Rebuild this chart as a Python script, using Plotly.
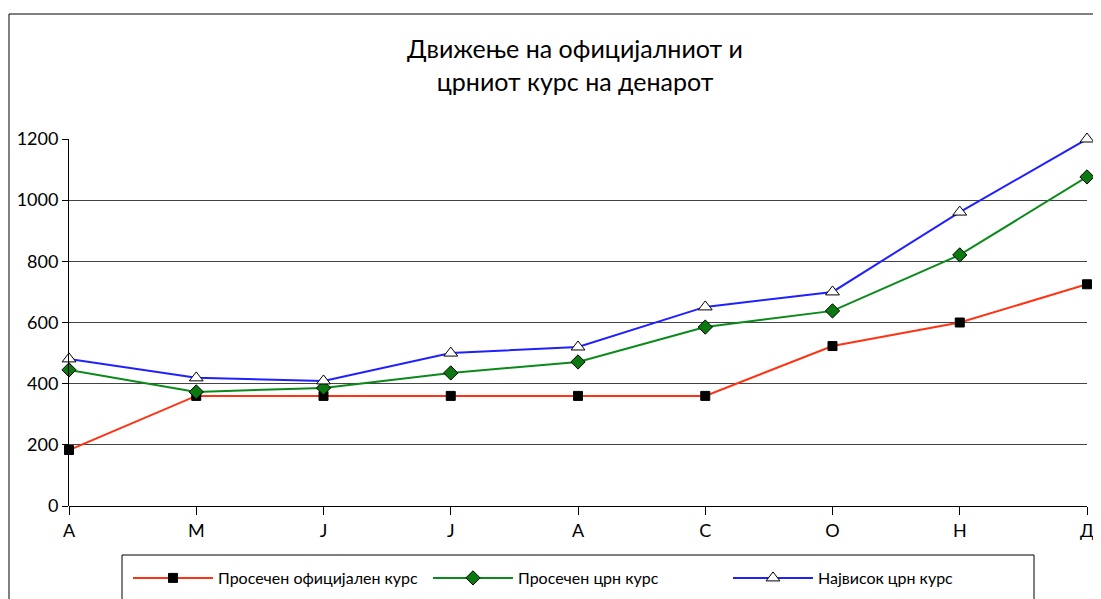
import plotly.graph_objects as go

# months (Apr..Dec), Macedonian initials
months = ["А", "М", "Ј", "Ј", "А", "С", "О", "Н", "Д"]
official_avg = [183, 360, 360, 360, 360, 360, 523, 600, 725]
black_avg = [445, 373, 386, 435, 471, 585, 638, 821, 1076]
black_max = [481, 419, 409, 500, 520, 651, 700, 961, 1200]

names = ["Просечен официјален курс", "Просечен црн курс", "Највисок црн курс"]

# the page body adds an 8px margin, so the figure is shifted by that much
OFF = 8
W, H = 1101 - OFF, 599 - OFF
L, R, T, B = 69 - OFF, 1087 - OFF, 139 - OFF, 506 - OFF


def px_x(p):
    return (p - OFF - L) / (R - L)


def px_y(p):
    return (B - (p - OFF)) / (B - T)


def cx(p):
    return (p - OFF) / W


def cy(p):
    return 1 - (p - OFF) / H


font_family = "Lato, 'DejaVu Sans', sans-serif"
xs = list(range(len(months)))

fig = go.Figure()

fig.add_trace(go.Scatter(
    x=xs, y=official_avg, name=names[0], mode="lines+markers",
    line=dict(color="#ff3314", width=2),
    marker=dict(symbol="square", size=9, color="black", line=dict(color="black", width=1)),
    legend="legend", cliponaxis=False,
))
fig.add_trace(go.Scatter(
    x=xs, y=black_avg, name=names[1], mode="lines+markers",
    line=dict(color="#0a8a1a", width=2),
    marker=dict(symbol="diamond", size=11, color="#0a7a10", line=dict(color="black", width=1)),
    legend="legend2", cliponaxis=False,
))
fig.add_trace(go.Scatter(
    x=xs, y=black_max, name=names[2], mode="lines+markers",
    line=dict(color="#2020ff", width=2),
    marker=dict(symbol="triangle-up", size=12, color="white", line=dict(color="black", width=1)),
    legend="legend3", cliponaxis=False,
))

leg_common = dict(
    orientation="h", yanchor="middle", xanchor="left",
    xref="container", yref="container",
    bgcolor="rgba(0,0,0,0)", itemwidth=80,
    font=dict(family=font_family, size=16, color="black"),
)

fig.update_layout(
    width=W, height=H,
    margin=dict(l=L, r=W - R, t=T, b=H - B, autoexpand=False),
    paper_bgcolor="white", plot_bgcolor="white",
    font=dict(family=font_family, color="black"),
    title=dict(
        text="Движење на официјалниот и<br>црниот курс на денарот",
        x=cx(575), xref="container", xanchor="center",
        y=cy(58), yanchor="middle",
        font=dict(size=25, color="black"),
    ),
    xaxis=dict(
        range=[0, 8], tickvals=xs, ticktext=months,
        showgrid=False, zeroline=False,
        ticks="outside", ticklen=8, tickcolor="black",
        showline=False,
        tickfont=dict(size=18),
    ),
    yaxis=dict(
        range=[0, 1200], dtick=200,
        showgrid=True, gridcolor="#444", gridwidth=1,
        zeroline=True, zerolinecolor="black", zerolinewidth=1,
        showline=True, linecolor="black", linewidth=1,
        ticks="outside", ticklen=6, tickcolor="black",
        tickfont=dict(size=18),
    ),
    legend=dict(x=cx(128), y=cy(578), **leg_common),
    legend2=dict(x=cx(428), y=cy(578), **leg_common),
    legend3=dict(x=cx(728), y=cy(578), **leg_common),
    showlegend=True,
)

# outer chart frame and legend box
fig.add_shape(type="rect", xref="paper", yref="paper",
              x0=px_x(9), x1=px_x(1120), y0=px_y(620), y1=px_y(14),
              line=dict(color="black", width=1), layer="below")
fig.add_shape(type="rect", xref="paper", yref="paper",
              x0=px_x(122), x1=px_x(1034), y0=px_y(620), y1=px_y(555),
              line=dict(color="black", width=1), layer="below")

fig.write_html("out.html")
